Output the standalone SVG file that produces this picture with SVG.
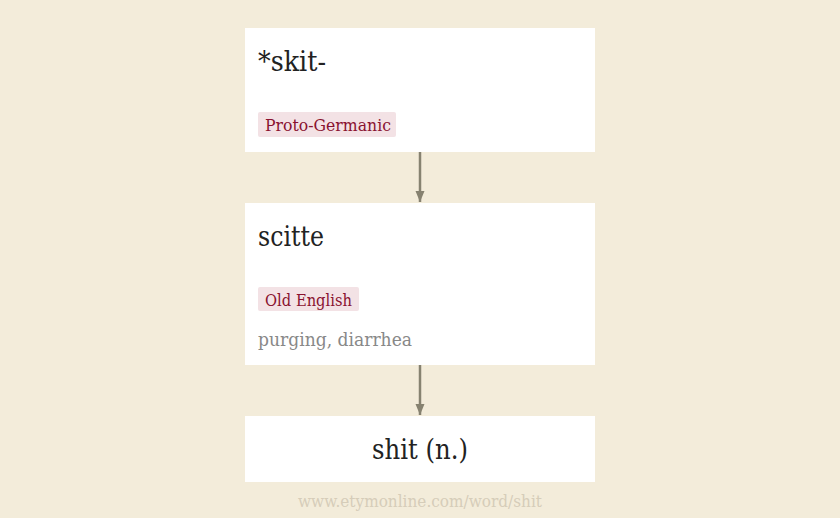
<svg xmlns="http://www.w3.org/2000/svg" width="840" height="518" viewBox="0 0 840 518">
<defs>
<marker id="ah" markerWidth="12" markerHeight="10" refX="11" refY="5" orient="auto" markerUnits="userSpaceOnUse" viewBox="0 0 12 10">
<path d="M0,0.5 L11,5 L0,9.5 Z" fill="#868270"/>
</marker>
</defs>
<style>
.box{fill:#ffffff}
.word{font-family:"DejaVu Serif","Liberation Serif",serif;font-size:27px;fill:#222}
.tag{fill:#f3e2e5}
.lang{font-family:"DejaVu Serif","Liberation Serif",serif;font-size:17px;fill:#8a1230}
.gloss{font-family:"DejaVu Serif","Liberation Serif",serif;font-size:19px;fill:#888}
.foot{font-family:"DejaVu Serif","Liberation Serif",serif;font-size:16px;fill:#d6cdb9}
.edge{stroke:#868270;stroke-width:2.5;fill:none}
</style>
<rect width="840" height="518" fill="#f3ecda"/>
<g id="connectors">
<line class="edge" x1="420" y1="152" x2="420" y2="202" marker-end="url(#ah)"/>
<line class="edge" x1="420" y1="365" x2="420" y2="415" marker-end="url(#ah)"/>
</g>
<g id="node-skit">
<rect class="box" x="245" y="28" width="350" height="124"/>
<text class="word" x="258" y="71" textLength="68" lengthAdjust="spacingAndGlyphs">*skit-</text>
<rect class="tag" x="258" y="112" width="138" height="25" rx="2"/>
<text class="lang" x="265" y="130.5" textLength="126" lengthAdjust="spacingAndGlyphs">Proto-Germanic</text>
</g>
<g id="node-scitte">
<rect class="box" x="245" y="203" width="350" height="162"/>
<text class="word" x="258" y="246" textLength="66" lengthAdjust="spacingAndGlyphs">scitte</text>
<rect class="tag" x="258" y="287" width="101" height="24" rx="2"/>
<text class="lang" x="265" y="305.5" textLength="87" lengthAdjust="spacingAndGlyphs">Old English</text>
<text class="gloss" x="258" y="345.5" textLength="154" lengthAdjust="spacingAndGlyphs">purging, diarrhea</text>
</g>
<g id="node-shit">
<rect class="box" x="245" y="416" width="350" height="66"/>
<text class="word" x="372" y="459" textLength="96" lengthAdjust="spacingAndGlyphs">shit (n.)</text>
</g>
<text class="foot" x="298" y="506.5" textLength="244" lengthAdjust="spacingAndGlyphs">www.etymonline.com/word/shit</text>
</svg>
